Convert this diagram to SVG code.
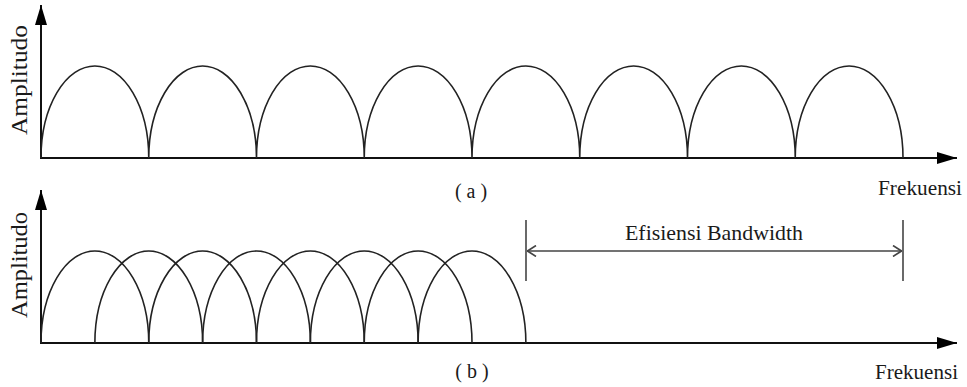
<svg xmlns="http://www.w3.org/2000/svg" width="967" height="387" viewBox="0 0 967 387">
<style>
.axis{stroke:#111;stroke-width:2;fill:none}
.arch{stroke:#222;stroke-width:1.6;fill:none}
.dim{stroke:#444;stroke-width:1.6;fill:none}
.t{font-family:'Liberation Serif','DejaVu Serif',serif;fill:#1a1a1a}
</style>
<defs>
<marker id="ah" viewBox="0 0 20 12" markerWidth="20" markerHeight="12" refX="20" refY="6" orient="auto" markerUnits="userSpaceOnUse">
<path d="M0,0 L20,6 L0,12 Z" fill="#000"/>
</marker>
<marker id="open" viewBox="0 0 10 12" markerWidth="10" markerHeight="12" refX="10" refY="6" orient="auto-start-reverse" markerUnits="userSpaceOnUse">
<path d="M1,0.5 L9.5,6 L1,11.5" fill="none" stroke="#444" stroke-width="1.6"/>
</marker>
</defs>
<g id="panel-a">
<g id="axes-a">
<line class="axis" x1="41" y1="158" x2="41" y2="5" marker-end="url(#ah)"/>
<line class="axis" x1="40" y1="158" x2="957" y2="158" marker-end="url(#ah)"/>
</g>
<g id="arches-a">
<path class="arch" d="M41,158 A53.875,92 0 0 1 148.75,158 A53.875,92 0 0 1 256.5,158 A53.875,92 0 0 1 364.25,158 A53.875,92 0 0 1 472,158 A53.875,92 0 0 1 579.75,158 A53.875,92 0 0 1 687.5,158 A53.875,92 0 0 1 795.25,158 A53.875,92 0 0 1 903,158"/>
</g>
<text class="t" font-family="Liberation Serif" font-size="23" transform="translate(27,80) rotate(-90)" text-anchor="middle" textLength="110" lengthAdjust="spacingAndGlyphs">Amplitudo</text>
<text class="t" font-family="Liberation Serif" font-size="20" x="471" y="198" text-anchor="middle">( a )</text>
<text class="t" font-family="Liberation Serif" font-size="21" x="962" y="195" text-anchor="end" textLength="84" lengthAdjust="spacingAndGlyphs">Frekuensi</text>
</g>
<g id="panel-b">
<g id="axes-b">
<line class="axis" x1="41" y1="343" x2="41" y2="190" marker-end="url(#ah)"/>
<line class="axis" x1="40" y1="343" x2="957" y2="343" marker-end="url(#ah)"/>
</g>
<g id="arches-b">
<path class="arch" d="M41,343 A53.875,92 0 0 1 148.75,343"/>
<path class="arch" d="M94.875,343 A53.875,92 0 0 1 202.625,343"/>
<path class="arch" d="M148.75,343 A53.875,92 0 0 1 256.5,343"/>
<path class="arch" d="M202.625,343 A53.875,92 0 0 1 310.375,343"/>
<path class="arch" d="M256.5,343 A53.875,92 0 0 1 364.25,343"/>
<path class="arch" d="M310.375,343 A53.875,92 0 0 1 418.125,343"/>
<path class="arch" d="M364.25,343 A53.875,92 0 0 1 472,343"/>
<path class="arch" d="M418.125,343 A53.875,92 0 0 1 525.875,343"/>
</g>
<text class="t" font-family="Liberation Serif" font-size="23" transform="translate(27,265) rotate(-90)" text-anchor="middle" textLength="106" lengthAdjust="spacingAndGlyphs">Amplitudo</text>
<text class="t" font-family="Liberation Serif" font-size="20" x="472" y="378" text-anchor="middle">( b )</text>
<text class="t" font-family="Liberation Serif" font-size="21" x="958" y="379" text-anchor="end" textLength="83" lengthAdjust="spacingAndGlyphs">Frekuensi</text>
</g>
<g id="connectors">
<line class="dim" x1="526" y1="220" x2="526" y2="281"/>
<line class="dim" x1="903" y1="220" x2="903" y2="281"/>
<line class="dim" x1="527" y1="251" x2="902" y2="251" marker-start="url(#open)" marker-end="url(#open)"/>
</g>
<g id="label-bandwidth">
<text class="t" font-family="Liberation Serif" font-size="22" x="714" y="240" text-anchor="middle" textLength="178" lengthAdjust="spacingAndGlyphs">Efisiensi Bandwidth</text>
</g>
</svg>
